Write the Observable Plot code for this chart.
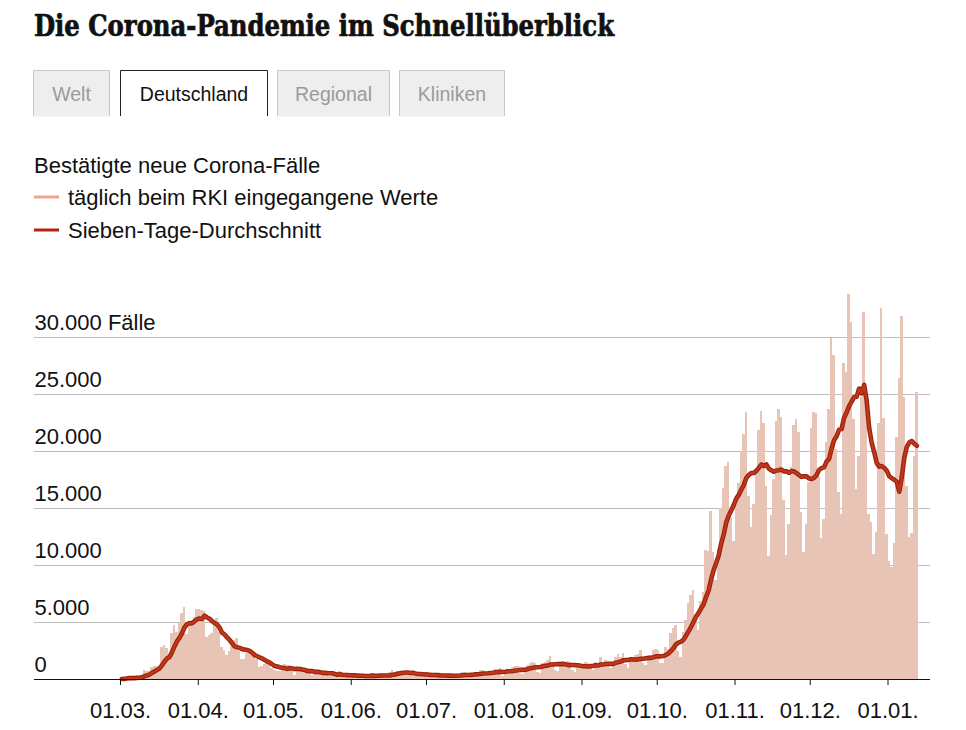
<!DOCTYPE html>
<html><head><meta charset="utf-8">
<script src="https://cdn.jsdelivr.net/npm/d3@7"></script>
<script src="https://cdn.jsdelivr.net/npm/@observablehq/plot@0.6"></script>
<style>
html,body{margin:0;padding:0;background:#fff;}
body{width:966px;height:730px;position:relative;overflow:hidden;font-family:"Liberation Sans",Arial,sans-serif;}
#head{position:absolute;left:0;top:0;}
#chart{position:absolute;left:0;top:270px;}
</style></head><body>
<svg id="head" width="966" height="270" xmlns="http://www.w3.org/2000/svg">
  <text x="34" y="36" font-family="'DejaVu Serif'" font-weight="bold" font-stretch="condensed" font-size="30" fill="#111" stroke="#111" stroke-width="0.7" textLength="580" lengthAdjust="spacingAndGlyphs">Die Corona-Pandemie im Schnellüberblick</text>
  <g font-family="'Liberation Sans', Arial, sans-serif" font-size="19.5" text-anchor="middle">
    <rect x="33.5" y="70.5" width="76" height="46" fill="#eeeeee"/>
    <path d="M33.5,116V70.5H109.5V116" fill="none" stroke="#c8c8c8"/>
    <text x="71.5" y="100.7" fill="#9a9a9a">Welt</text>
    <rect x="120.5" y="70.5" width="147" height="46" fill="#ffffff"/>
    <path d="M120.5,116V70.5H267.5V116" fill="none" stroke="#222"/>
    <text x="194" y="100.7" fill="#111">Deutschland</text>
    <rect x="277.5" y="70.5" width="112" height="46" fill="#eeeeee"/>
    <path d="M277.5,116V70.5H389.5V116" fill="none" stroke="#c8c8c8"/>
    <text x="333.5" y="100.7" fill="#9a9a9a">Regional</text>
    <rect x="399.5" y="70.5" width="105" height="46" fill="#eeeeee"/>
    <path d="M399.5,116V70.5H504.5V116" fill="none" stroke="#c8c8c8"/>
    <text x="452" y="100.7" fill="#9a9a9a">Kliniken</text>
  </g>
  <g font-family="'Liberation Sans', Arial, sans-serif" font-size="22" fill="#111">
    <text x="34" y="172.5">Bestätigte neue Corona-Fälle</text>
    <line x1="34" x2="59" y1="197" y2="197" stroke="#eea58a" stroke-width="3"/>
    <text x="68" y="205">täglich beim RKI eingegangene Werte</text>
    <line x1="34" x2="59" y1="230" y2="230" stroke="#b3220c" stroke-width="3"/>
    <text x="68" y="237.5">Sieben-Tage-Durchschnitt</text>
  </g>
</svg>
<div id="chart"></div>
<script>
// Daily new cases as plotted (first value sits on 01.03.)
const startDate = "2020-03-01";
const maerz = [38, 66, 138, 239, 156, 107, 237, 157, 271, 802, 693, 733, 1043, 1174, 1144, 1042, 2801, 2958, 2705, 1948, 4062, 4764, 4118, 4954, 5780, 6294, 3965, 4751, 4615, 5453, 6156];
const april = [6174, 6082, 5936, 3677, 3834, 4003, 4974, 5323, 4133, 2821, 2537, 2082, 2486, 2866, 3380, 3609, 2458, 1775, 1785, 2237, 2352, 2337, 2055, 1737, 1018, 1144, 1304, 1478, 1639, 945];
const mai = [793, 679, 685, 947, 1284, 1209, 1251, 667, 357, 933, 798, 933, 913, 620, 583, 342, 513, 797, 745, 460, 638, 431, 289, 432, 362, 353, 741, 286, 309, 213, 342];
const juni = [285, 394, 507, 301, 214, 136, 350, 318, 555, 348, 407, 247, 192, 378, 345, 580, 770, 601, 687, 537, 503, 587, 630, 477, 687, 256, 262, 466, 466, 503];
const juli = [446, 422, 239, 219, 397, 298, 442, 395, 378, 248, 159, 353, 351, 534, 583, 572, 252, 202, 454, 570, 569, 815, 781, 305, 340, 633, 684, 902, 870, 955, 240];
const august = [509, 879, 741, 1045, 1147, 1122, 555, 436, 966, 1226, 1445, 1449, 1415, 625, 561, 1390, 1510, 1707, 2034, 1427, 782, 711, 1278, 1576, 1507, 1571, 1479, 785, 610, 1218, 1256];
const september = [1311, 1453, 1378, 988, 814, 1499, 1176, 1892, 1484, 1630, 1105, 927, 1407, 1901, 2194, 1916, 2297, 1345, 922, 1821, 1769, 2143, 2153, 2507, 1411, 1192, 2089, 1798, 2503, 2673];
const oktober = [2563, 1411, 1382, 2828, 2639, 4058, 4516, 4721, 2467, 1971, 4122, 5132, 6638, 7334, 7830, 5587, 4325, 6868, 7595, 11287, 11242, 14714, 11176, 8685, 11409, 14964, 16774, 18681, 19059, 14177, 12097];
const november = [15352, 17214, 19990, 21506, 23399, 16017, 13363, 15332, 18487, 21866, 23542, 22461, 16947, 10824, 14419, 17561, 22609, 23648, 22964, 15741, 10864, 13554, 18633, 22268, 22806, 21695, 14611, 11169, 13604, 17270];
const dezember = [22046, 23449, 23318, 17767, 12332, 14054, 20815, 23679, 29875, 28438, 20200, 16362, 14432, 27728, 26923, 33777, 31300, 22771, 16643, 19528, 24740, 32195, 24000, 14455, 13755, 10976, 12892, 22459, 32552, 22924, 12690];
const januar = [10315, 9847, 11897, 21237, 26391, 31849, 24694, 16946, 12497, 12802, 19600, 25164];

const monthTicks = ["2020-03-01","2020-04-01","2020-05-01","2020-06-01","2020-07-01","2020-08-01","2020-09-01","2020-10-01","2020-11-01","2020-12-01","2021-01-01"];
const yTicks = [0, 5000, 10000, 15000, 20000, 25000, 30000];
const yTickLabels = ["0", "5.000", "10.000", "15.000", "20.000", "25.000", "30.000 Fälle"];

const faelle = [].concat(maerz, april, mai, juni, juli, august, september, oktober, november, dezember, januar);
const DAY = 864e5;
const t0 = +new Date(startDate);
const rows = faelle.map((v, i) => ({
  start: new Date(t0 + i * DAY),
  end: new Date(t0 + (i + 1) * DAY),
  mid: new Date(t0 + (i + 0.5) * DAY),
  value: v
}));
const tickDates = monthTicks.map(d => new Date(d));

const chart = Plot.plot({
  width: 966,
  height: 460,
  marginTop: 67,
  marginBottom: 51,
  marginLeft: 34,
  marginRight: 36,
  style: {fontFamily: "'Liberation Sans', Arial, sans-serif", fontSize: "22px", color: "#111", background: "transparent", overflow: "visible"},
  x: {type: "utc", domain: [tickDates[0], tickDates[tickDates.length - 1]], range: [120, 887.5], axis: null},
  y: {domain: [0, 30000], axis: null},
  marks: [
    Plot.ruleY(yTicks.filter(d => d > 0), {stroke: "#bdbdbd", strokeWidth: 1}),
    Plot.rect(rows, {x1: "start", x2: "end", y1: 0, y2: "value", fill: "#e8c4b6", shapeRendering: "crispEdges"}),
    Plot.lineY(rows, Plot.windowY({k: 7, anchor: "end", strict: false}, {x: "mid", y: "value", stroke: "#98210b", strokeWidth: 4.6, strokeLinejoin: "round", strokeLinecap: "round"})),
    Plot.lineY(rows, Plot.windowY({k: 7, anchor: "end", strict: false}, {x: "mid", y: "value", stroke: "#c0361a", strokeWidth: 2.4, strokeLinejoin: "round", strokeLinecap: "round"})),
    Plot.ruleY([0], {stroke: "#111", strokeWidth: 1}),
    Plot.axisX({ticks: tickDates, tickSize: 6, tickPadding: 17, tickFormat: d3.utcFormat("%d.%m."), fontSize: 22, label: null, stroke: "#111"}),
    Plot.text(yTicks, {y: d => d, text: yTickLabels, frameAnchor: "left", textAnchor: "start", lineAnchor: "bottom", dy: -8, fontSize: 22, fill: "#111"})
  ]
});
document.getElementById("chart").appendChild(chart);
</script>
</body></html>
